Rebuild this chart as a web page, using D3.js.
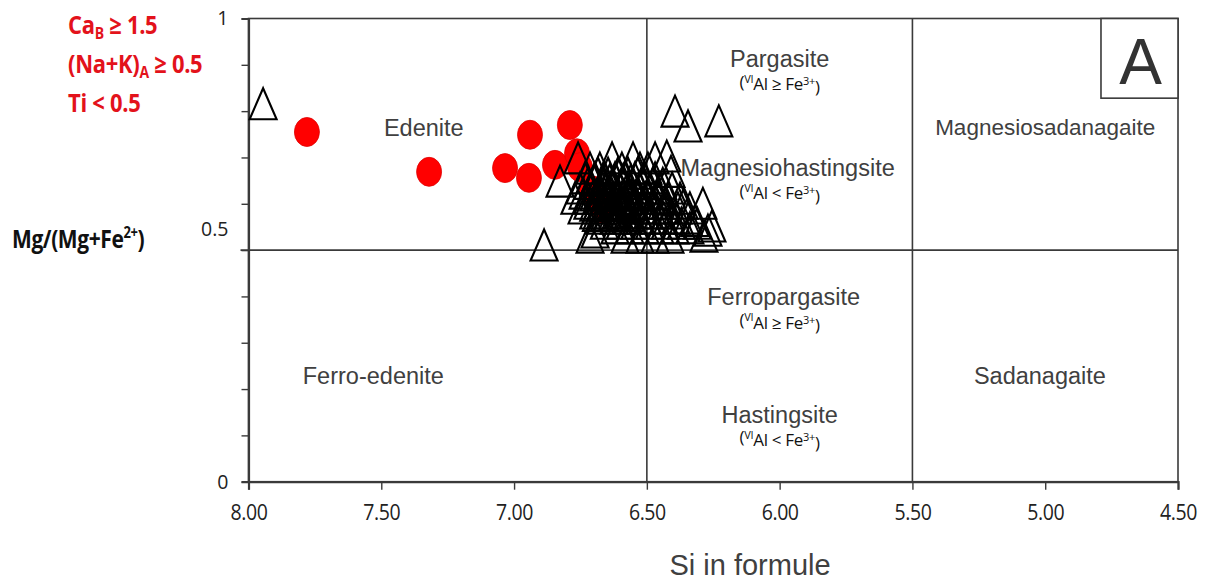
<!DOCTYPE html>
<html><head><meta charset="utf-8">
<script src="https://cdn.jsdelivr.net/npm/d3@7"></script>
<style>
body{margin:0;background:#fff;}
svg{display:block;}
</style></head>
<body>
<svg id="chart" width="1211" height="582"></svg>
<script>
// ---- data ----
const xTicks = [8.0, 7.5, 7.0, 6.5, 6.0, 5.5, 5.0, 4.5];
const yTicksLabeled = [0, 0.5, 1];
const yMinorTicks = [0, 0.1, 0.2, 0.3, 0.4, 0.5, 0.6, 0.7, 0.8, 0.9, 1.0];
const xDividers = [6.5, 5.5];
const yDividers = [0.5];

// red circles
const circleSi = [7.78, 7.32, 7.034, 6.94, 6.944, 6.79, 6.846, 6.763, 6.752, 6.707, 6.665];
const circleMg = [0.755, 0.669, 0.677, 0.749, 0.656, 0.770, 0.684, 0.709, 0.679, 0.629, 0.590];

// open triangles
const triSi = [
  7.945, 6.887, 6.394, 6.345, 6.229, 6.425, 6.409, 6.289, 6.270, 6.255, 6.285, 6.319, 6.827,
  6.759, 6.631, 6.552, 6.469,
  6.714, 6.677, 6.594, 6.526, 6.496,
  6.733, 6.695, 6.658, 6.620, 6.582, 6.545, 6.507, 6.469,
  6.752, 6.707, 6.669, 6.631, 6.601, 6.564, 6.526, 6.488, 6.451, 6.405,
  6.771, 6.722, 6.684, 6.646, 6.609, 6.571, 6.534, 6.496, 6.458, 6.420, 6.375,
  6.744, 6.692, 6.639, 6.594, 6.549, 6.503, 6.466, 6.428, 6.383, 6.338,
  6.677, 6.624, 6.571, 6.526, 6.481, 6.436, 6.390, 6.345,
  6.620, 6.564, 6.507, 6.451, 6.394, 6.338,
  6.714, 6.695, 6.582, 6.526, 6.469, 6.413,
  6.684, 6.646, 6.609, 6.571, 6.534,
  6.722, 6.665, 6.628, 6.590, 6.552, 6.515, 6.477, 6.440,
  6.740, 6.684, 6.646, 6.609, 6.571, 6.534, 6.496, 6.458,
  6.722, 6.665, 6.628, 6.590, 6.552, 6.515, 6.477, 6.430, 6.360,
  6.700, 6.646, 6.609, 6.571, 6.534, 6.496, 6.458, 6.410,
  6.660, 6.600, 6.545, 6.490, 6.430, 6.370, 6.310,
  6.700, 6.665, 6.640, 6.615, 6.590, 6.560,
  6.700, 6.670, 6.640, 6.615, 6.590, 6.560, 6.530,
  6.700, 6.675, 6.650, 6.620, 6.600, 6.570,
  6.690, 6.660, 6.630, 6.600, 6.560
];
const triMg = [
  0.816, 0.511, 0.800, 0.768, 0.779, 0.703, 0.670, 0.601, 0.543, 0.552, 0.530, 0.564, 0.649,
  0.699, 0.699, 0.699, 0.699,
  0.677, 0.677, 0.677, 0.677, 0.677,
  0.656, 0.656, 0.656, 0.656, 0.656, 0.656, 0.656, 0.656,
  0.634, 0.634, 0.634, 0.634, 0.634, 0.634, 0.634, 0.634, 0.634, 0.634,
  0.612, 0.612, 0.612, 0.612, 0.612, 0.612, 0.612, 0.612, 0.612, 0.612, 0.612,
  0.591, 0.591, 0.591, 0.591, 0.591, 0.591, 0.591, 0.591, 0.591, 0.591,
  0.569, 0.569, 0.569, 0.569, 0.569, 0.569, 0.569, 0.569,
  0.548, 0.548, 0.548, 0.548, 0.548, 0.548,
  0.528, 0.539, 0.528, 0.528, 0.528, 0.528,
  0.666, 0.666, 0.666, 0.666, 0.666,
  0.644, 0.644, 0.644, 0.644, 0.644, 0.644, 0.644, 0.644,
  0.623, 0.623, 0.623, 0.623, 0.623, 0.623, 0.623, 0.623,
  0.601, 0.601, 0.601, 0.601, 0.601, 0.601, 0.601, 0.601, 0.601,
  0.580, 0.580, 0.580, 0.580, 0.580, 0.580, 0.580, 0.580,
  0.558, 0.558, 0.558, 0.558, 0.558, 0.558, 0.558,
  0.651, 0.651, 0.651, 0.651, 0.651, 0.651,
  0.619, 0.619, 0.619, 0.619, 0.619, 0.619, 0.619,
  0.597, 0.597, 0.597, 0.597, 0.597, 0.597,
  0.575, 0.575, 0.575, 0.575, 0.575
];

// field names
const fieldNames = ["Edenite", "Pargasite", "Magnesiohastingsite", "Magnesiosadanagaite",
                    "Ferropargasite", "Ferro-edenite", "Sadanagaite", "Hastingsite"];
const fieldSi = [7.34, 6.0, 5.97, 5.0, 5.985, 7.53, 5.02, 6.0];
const fieldMg = [0.765, 0.913, 0.678, 0.765, 0.399, 0.229, 0.229, 0.145];
const fieldSub = ["", "\u2265", "<", "", "\u2265", "", "", "<"];

// ---- drawing ----
const svg = d3.select("#chart");
const x = d3.scaleLinear().domain([8, 4.5]).range([248.5, 1178]);
const y = d3.scaleLinear().domain([0, 1]).range([481.7, 18.5]);
const axisColor = "#3a3a3a";
const textColor = "#404040";

const g = svg.append("g");
g.append("rect").attr("x", x(8)).attr("y", y(1))
  .attr("width", x(4.5) - x(8)).attr("height", y(0) - y(1))
  .attr("fill", "none").attr("stroke", axisColor).attr("stroke-width", 1.6);
xDividers.forEach(v => g.append("line").attr("x1", x(v)).attr("x2", x(v)).attr("y1", y(0)).attr("y2", y(1))
  .attr("stroke", axisColor).attr("stroke-width", 1.6));
yDividers.forEach(v => g.append("line").attr("x1", x(8) - 8).attr("x2", x(4.5)).attr("y1", y(v)).attr("y2", y(v))
  .attr("stroke", axisColor).attr("stroke-width", 1.6));

// x axis
const xAxis = d3.axisBottom(x).tickValues(xTicks).tickFormat(d3.format(".2f")).tickSize(8).tickPadding(14);
const xa = svg.append("g").attr("transform", `translate(0,${y(0)})`).call(xAxis);
xa.select(".domain").attr("stroke", axisColor).attr("stroke-width", 2.2);
xa.selectAll(".tick line").attr("stroke", axisColor).attr("stroke-width", 1.4);
xa.selectAll(".tick text").attr("font-family", "'Open Sans', 'Liberation Sans', sans-serif")
  .attr("font-size", 19.5).attr("fill", "#222").attr("letter-spacing", -0.4)
  .attr("transform", "translate(0,-3) scale(1,1.15)");

// y axis
const yAxis = d3.axisLeft(y).tickValues(yMinorTicks).tickSize(7).tickFormat("");
const ya = svg.append("g").attr("transform", `translate(${x(8)},0)`).call(yAxis);
ya.select(".domain").attr("stroke", axisColor).attr("stroke-width", 2.2);
ya.selectAll(".tick line").attr("stroke", axisColor).attr("stroke-width", 1.4);
svg.append("g").selectAll("text").data(yTicksLabeled).join("text")
  .attr("x", x(8) - 20)
  .attr("y", d => d === 0.5 ? y(d) - 21 : y(d))
  .attr("dy", "0.35em").attr("text-anchor", "end")
  .attr("font-family", "'Open Sans', 'Liberation Sans', sans-serif").attr("font-size", 19.5)
  .attr("fill", "#222").text(d => d3.format("")(d));

// red circles
svg.append("g").selectAll("ellipse").data(circleSi.map((s, i) => [s, circleMg[i]])).join("ellipse")
  .attr("cx", d => x(d[0])).attr("cy", d => y(d[1]))
  .attr("rx", 12.5).attr("ry", 14.5)
  .attr("fill", "#ff0000").attr("stroke", "#e00000").attr("stroke-width", 0.8);

// triangles
const tw = 13.5, th = 15.5;
svg.append("g").selectAll("path").data(triSi.map((s, i) => [s, triMg[i]])).join("path")
  .attr("d", d => {
    const cx = x(d[0]), cy = y(d[1]);
    return `M${cx},${cy - th}L${cx + tw},${cy + th}L${cx - tw},${cy + th}Z`;
  })
  .attr("fill", "none").attr("stroke", "#000").attr("stroke-width", 2.1).attr("stroke-linejoin", "miter");

// "A" box
const boxL = 4.79, boxB = 0.828;
svg.append("rect").attr("x", x(boxL)).attr("y", y(1)).attr("width", x(4.5) - x(boxL)).attr("height", y(boxB) - y(1))
  .attr("fill", "#fff").attr("stroke", axisColor).attr("stroke-width", 1.6);
svg.append("text").attr("x", (x(boxL) + x(4.5)) / 2 + 1).attr("y", y(1) + 65)
  .attr("text-anchor", "middle").attr("font-family", "'Liberation Sans', Arial, sans-serif")
  .attr("font-size", 64).attr("fill", "#333").text("A");

// field labels
const fl = svg.append("g").attr("font-family", "'Liberation Sans', Arial, sans-serif").attr("fill", textColor);
fieldNames.forEach((name, i) => {
  fl.append("text").attr("x", x(fieldSi[i])).attr("y", y(fieldMg[i]))
    .attr("dy", "0.35em").attr("text-anchor", "middle")
    .attr("font-size", name === "Magnesiosadanagaite" ? 22.5 : 23.5).text(name);
  if (fieldSub[i]) {
    const t = fl.append("text").attr("x", x(6.0)).attr("y", y(fieldMg[i]) + 23)
      .attr("dy", "0.35em").attr("text-anchor", "middle")
      .attr("font-family", "'Open Sans', 'Liberation Sans', sans-serif")
      .attr("font-size", 17).attr("fill", "#111").attr("letter-spacing", -0.3);
    t.append("tspan").text("(");
    t.append("tspan").attr("font-size", 11).attr("dy", "-0.45em").text("VI");
    t.append("tspan").attr("dy", "0.45em").text("Al " + fieldSub[i] + " Fe");
    t.append("tspan").attr("font-size", 11).attr("dy", "-0.45em").text("3+");
    t.append("tspan").attr("dy", "0.45em").text(")");
  }
});

// red condition text
const red = "#e3121b";
const rt = svg.append("g").attr("font-family", "'Open Sans', 'Liberation Sans', sans-serif")
  .attr("font-weight", "bold").attr("fill", red).attr("font-size", 22).attr("letter-spacing", -0.3);
let t1 = rt.append("text").attr("transform", "translate(68,34) scale(1,1.15)");
t1.append("tspan").text("Ca");
t1.append("tspan").attr("font-size", 14).attr("dy", 4).text("B");
t1.append("tspan").attr("dy", -4).text(" \u2265 1.5");
let t2 = rt.append("text").attr("transform", "translate(68,73) scale(1,1.15)");
t2.append("tspan").text("(Na+K)");
t2.append("tspan").attr("font-size", 14).attr("dy", 4).text("A");
t2.append("tspan").attr("dy", -4).text(" \u2265 0.5");
rt.append("text").attr("transform", "translate(68,112) scale(1,1.15)").text("Ti < 0.5");

// y title
const yt = svg.append("text").attr("transform", "translate(12,248) scale(1,1.2)")
  .attr("font-family", "'Open Sans', 'Liberation Sans', sans-serif").attr("font-weight", "bold")
  .attr("font-size", 21).attr("fill", "#111").attr("letter-spacing", -0.4);
yt.append("tspan").text("Mg/(Mg+Fe");
yt.append("tspan").attr("font-size", 13).attr("dy", -8).text("2+");
yt.append("tspan").attr("dy", 8).text(")");

// x title
svg.append("text").attr("x", 750).attr("y", 575).attr("text-anchor", "middle")
  .attr("font-family", "'Liberation Sans', Arial, sans-serif").attr("font-size", 29)
  .attr("fill", textColor).text("Si in formule");
</script>
</body></html>
